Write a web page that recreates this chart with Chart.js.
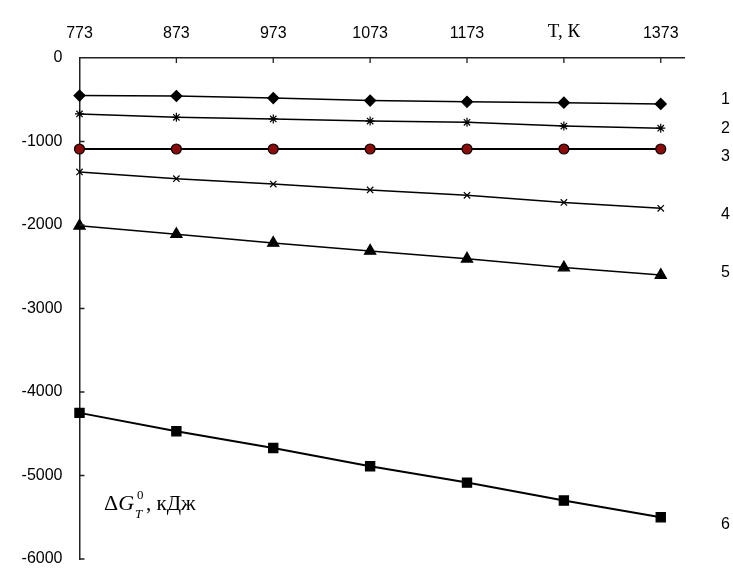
<!DOCTYPE html>
<html>
<head>
<meta charset="utf-8">
<script src="https://cdn.jsdelivr.net/npm/chart.js@4"></script>
<style>
  html, body { margin: 0; padding: 0; background: #fff; }
  #wrap { width: 733px; height: 568px; }
</style>
</head>
<body>
<div id="wrap"><canvas id="chart" width="733" height="568"></canvas></div>
<script>
// temperatures (K) and tick labels of the top axis
const temps = [773, 873, 973, 1073, 1173, 1273, 1373];
const xTickValues = [773, 873, 973, 1073, 1173, 1273, 1373];
const xTickText = ['773', '873', '973', '1073', '1173', 'T, К', '1373'];

// ΔG°T, kJ for each reaction
const series1 = [-450, -455, -480, -510, -525, -535, -550];
const series2 = [-670, -710, -730, -755, -770, -815, -840];
const series3 = [-1090, -1090, -1090, -1090, -1090, -1090, -1090];
const series4 = [-1365, -1445, -1510, -1580, -1645, -1730, -1800];
const series5 = [-2010, -2110, -2215, -2310, -2405, -2510, -2600];
const series6 = [-4250, -4470, -4670, -4890, -5085, -5300, -5500];
const seriesNames = ['1', '2', '3', '4', '5', '6'];

const numFont = { family: '"Liberation Sans", Arial, sans-serif', size: 16, lineHeight: 1 };
const serif = '"Liberation Serif", "Times New Roman", serif';

// marker styles per series
const markers = [
  { pointStyle: 'rectRot', radius: 5.5, fill: '#000' },
  { pointStyle: 'star', radius: 4.5, fill: '#000' },
  { pointStyle: 'circle', radius: 5, fill: '#8b0a0a' },
  { pointStyle: 'crossRot', radius: 4.5, fill: '#000' },
  { pointStyle: 'triangle', radius: 6.5, fill: '#000' },
  { pointStyle: 'rect', radius: 6.5, fill: '#000' }
];
// small vertical nudge of the right-hand numbers
const labelNudge = [-4, 0, 8, 6, -3, 7];

const allSeries = [series1, series2, series3, series4, series5, series6];

const datasets = allSeries.map((vals, i) => ({
  label: seriesNames[i],
  data: vals.map((v, j) => ({ x: temps[j], y: v })),
  borderColor: '#000',
  borderWidth: i === 5 || i === 2 ? 2 : 1.5,
  pointStyle: markers[i].pointStyle,
  pointRadius: markers[i].radius,
  pointBackgroundColor: markers[i].fill,
  pointBorderColor: '#000',
  pointBorderWidth: 1.2,
  tension: 0,
  clip: false
}));

// inward tick marks on both axes
const innerTicks = {
  id: 'innerTicks',
  afterDraw(chart) {
    const { ctx, chartArea, scales } = chart;
    ctx.save();
    ctx.strokeStyle = '#222';
    ctx.lineWidth = 1.3;
    ctx.beginPath();
    scales.x.ticks.forEach((t, i) => {
      if (i === 0) return;
      const px = scales.x.getPixelForValue(t.value);
      ctx.moveTo(px, chartArea.top);
      ctx.lineTo(px, chartArea.top + 5);
    });
    scales.y.ticks.forEach(t => {
      if (t.value === 0) return;
      const py = scales.y.getPixelForValue(t.value);
      ctx.moveTo(chartArea.left, py);
      ctx.lineTo(chartArea.left + 5, py);
    });
    ctx.stroke();
    ctx.restore();
  }
};

// series numbers at the right edge
const seriesLabels = {
  id: 'seriesLabels',
  afterDatasetsDraw(chart) {
    const ctx = chart.ctx;
    ctx.save();
    ctx.font = numFont.size + 'px ' + numFont.family;
    ctx.fillStyle = '#000';
    ctx.textBaseline = 'middle';
    ctx.textAlign = 'left';
    chart.data.datasets.forEach((ds, i) => {
      const pts = chart.getDatasetMeta(i).data;
      const last = pts[pts.length - 1];
      ctx.fillText(ds.label, 721, last.y + labelNudge[i]);
    });
    ctx.restore();
  }
};

// the ΔG°T, кДж axis title
const yTitle = {
  id: 'yTitle',
  afterDraw(chart) {
    const ctx = chart.ctx;
    let x = 104;
    const base = 510;
    ctx.save();
    ctx.fillStyle = '#000';
    ctx.textBaseline = 'alphabetic';
    ctx.font = '22px ' + serif;
    ctx.fillText('Δ', x, base);
    x += ctx.measureText('Δ').width;
    ctx.font = 'italic 22px ' + serif;
    ctx.fillText('G', x, base);
    x += ctx.measureText('G').width + 1;
    ctx.font = '13px ' + serif;
    ctx.fillText('0', x + 2, base - 11);
    ctx.font = 'italic 13px ' + serif;
    ctx.fillText('T', x, base + 8);
    x += 11;
    ctx.font = '21px ' + serif;
    ctx.fillText(', кДж', x, base);
    ctx.restore();
  }
};

const ctx = document.getElementById('chart');

new Chart(ctx, {
  type: 'line',
  data: { datasets: datasets },
  options: {
    responsive: false,
    animation: false,
    layout: { autoPadding: false, padding: { left: 0, right: 49, top: 0, bottom: 9 } },
    plugins: {
      legend: { display: false },
      tooltip: { enabled: false }
    },
    scales: {
      x: {
        type: 'linear',
        position: 'top',
        min: 773,
        max: 1397,
        afterBuildTicks: s => { s.ticks = xTickValues.map(v => ({ value: v })); },
        afterFit: s => { s.height = 58; },
        grid: { display: false, drawTicks: false },
        border: { display: true, color: '#222', width: 1.5 },
        ticks: {
          color: '#000',
          padding: 16,
          maxRotation: 0,
          autoSkip: false,
          font: c => (c.tick && c.tick.value === 1273)
            ? { family: serif, size: 19, lineHeight: 1 }
            : numFont,
          callback: (v) => xTickText[xTickValues.indexOf(v)]
        }
      },
      y: {
        min: -6000,
        max: 0,
        afterFit: s => {
          s.width = 79.5;
          // keep the tick padding from shrinking the plot vertically
          s.paddingTop = 0;
          s.paddingBottom = 8;
        },
        grid: { display: false, drawTicks: false },
        border: { display: true, color: '#222', width: 1.5 },
        ticks: {
          stepSize: 1000,
          color: '#000',
          padding: 17,
          font: numFont,
          callback: v => String(v)
        }
      }
    }
  },
  plugins: [innerTicks, seriesLabels, yTitle]
});
</script>
</body>
</html>
